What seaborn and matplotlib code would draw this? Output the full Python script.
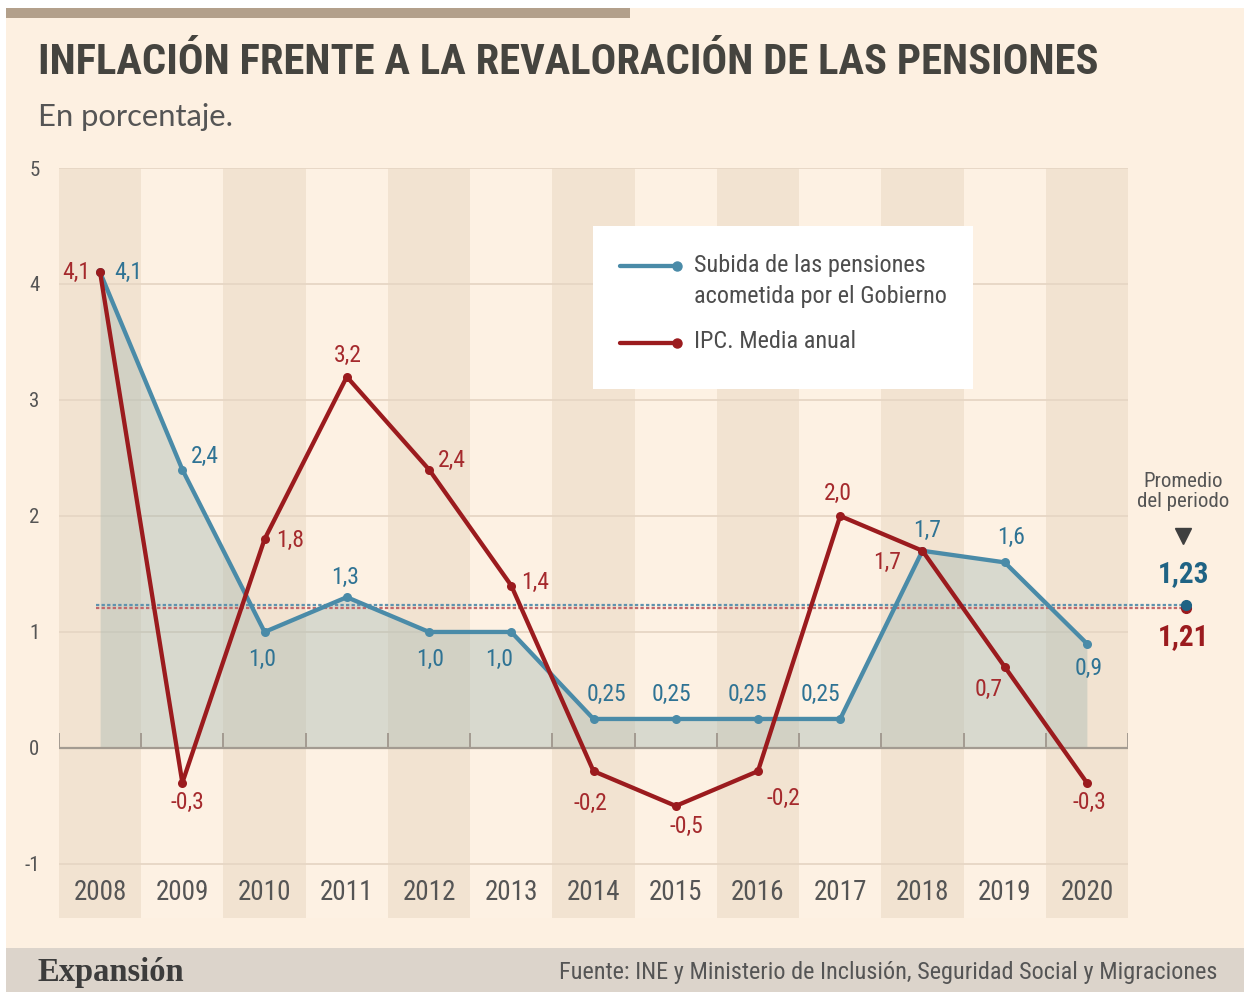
import numpy as np
import pandas as pd
import matplotlib
matplotlib.use("Agg")
import matplotlib.pyplot as plt
import seaborn as sns
from matplotlib import font_manager as fm
from matplotlib.patches import Rectangle
from matplotlib.lines import Line2D

# Datos (en porcentaje)
anios = ["2008", "2009", "2010", "2011", "2012", "2013", "2014",
         "2015", "2016", "2017", "2018", "2019", "2020"]
pensiones = [4.1, 2.4, 1.0, 1.3, 1.0, 1.0, 0.25, 0.25, 0.25, 0.25, 1.7, 1.6, 0.9]
ipc = [4.1, -0.3, 1.8, 3.2, 2.4, 1.4, -0.2, -0.5, -0.2, 2.0, 1.7, 0.7, -0.3]
promedio_pensiones = 1.23
promedio_ipc = 1.21
y_ticks = [5, 4, 3, 2, 1, 0, -1]

# desplazamiento de las etiquetas (pixeles, x derecha / y arriba)
off_pensiones = [(28, 0), (23, 13), (-2, -28), (-2, 20), (1, -28), (-12, -28), (13, 24),
                 (-4, 24), (-11, 24), (-20, 24), (5, 20), (6, 25), (2, -25)]
off_ipc = [(-24, 0), (5, -20), (26, -1), (1, 21), (23, 9), (24, 3), (-3, -32),
           (11, -21), (25, -27), (-2, 23), (-35, -12), (-16, -23), (2, -20)]

CREAM = "#FDF0E1"
DARK_BAND = "#F2E3D1"
GRID = "#E6D6C4"
AXIS = "#A39B91"
BLUE = "#4A8BA8"
BLUE_TXT = "#2F7394"
RED = "#9B1B1E"
RED_TXT = "#A52A2D"
GRAY_TXT = "#555555"

sns.set_theme(style="white")
nombres = {f.name for f in fm.fontManager.ttflist}
NARROW = next((n for n in ["Liberation Sans Narrow", "Roboto Condensed", "DejaVu Sans"]
               if n in nombres), "DejaVu Sans")
plt.rcParams["font.family"] = [NARROW, "DejaVu Sans"]

W, H = 1244, 992
fig = plt.figure(figsize=(W / 100, H / 100), dpi=100, facecolor="white")


def fx(px):
    return px / W


def fy(py):
    return 1 - py / H


def caja(x0, y0, x1, y1, color, z=0):
    fig.add_artist(Rectangle((fx(x0), fy(y1)), fx(x1) - fx(x0), fy(y0) - fy(y1),
                             transform=fig.transFigure, color=color, lw=0, zorder=z))


def ajustar(t, ancho):
    fig.canvas.draw()
    w = t.get_window_extent().width
    t.set_fontsize(t.get_fontsize() * ancho / w)


# fondo, barra superior y pie
caja(6, 8, W, 948, CREAM, z=-2)
caja(6, 8, 630, 18, "#B3A08B", z=-1)
caja(6, 948, W, H, "#DCD4CB", z=-1)

ax = fig.add_axes([fx(59), fy(918), fx(1128) - fx(59), (918 - 168) / H])
ax.set_facecolor("#FDF1E3")
ax.set_xlim(-0.5, 12.5)
ax.set_ylim(-1.466, 5)
for s in ax.spines.values():
    s.set_visible(False)

x = np.arange(len(anios))
for i in range(0, len(anios), 2):
    ax.axvspan(i - 0.5, i + 0.5, color=DARK_BAND, lw=0, zorder=0)
for v in y_ticks:
    if v != 0:
        ax.axhline(v, color=GRID, lw=1.3, zorder=1)

ax.fill_between(x, pensiones, 0, color="#A6BAB2", alpha=0.42, lw=0, zorder=2)
ax.axhline(0, color=AXIS, lw=1.6, zorder=3)
ax.vlines(np.arange(-0.5, len(anios)), 0, 0.13, color=AXIS, lw=1.4, zorder=3)

df = pd.DataFrame({"x": x, "pensiones": pensiones, "ipc": ipc})
sns.lineplot(data=df, x="x", y="pensiones", color=BLUE, lw=3.1, marker="o",
             markersize=6.5, markeredgewidth=0, ax=ax, zorder=5)
sns.lineplot(data=df, x="x", y="ipc", color=RED, lw=3.1, marker="o",
             markersize=6.5, markeredgewidth=0, ax=ax, zorder=6)


def etiqueta(v):
    s = f"{v:.1f}" if abs(v * 10 - round(v * 10)) < 1e-9 else f"{v:.2f}"
    return s.replace(".", ",")


for i in x:
    ax.annotate(etiqueta(pensiones[i]), (i, pensiones[i]), xytext=off_pensiones[i],
                textcoords="offset pixels", ha="center", va="center",
                fontsize=17, color=BLUE_TXT, zorder=7)
    ax.annotate(etiqueta(ipc[i]), (i, ipc[i]), xytext=off_ipc[i],
                textcoords="offset pixels", ha="center", va="center",
                fontsize=17, color=RED_TXT, zorder=7)
    ax.text(i, -1.25, anios[i], ha="center", va="center", fontsize=19.5, color=GRAY_TXT)

# promedios del periodo
ax.plot([-0.05, 13.2], [promedio_ipc] * 2, ls=(0, (1.5, 1)), lw=1.6,
        color="#C2686A", clip_on=False, zorder=4)
ax.plot([-0.05, 13.2], [promedio_pensiones] * 2, ls=(0, (1.5, 1)), lw=1.6,
        color="#5E93AE", clip_on=False, zorder=4)
ax.plot(13.2, promedio_ipc, "o", ms=7, color=RED, clip_on=False, zorder=5)
ax.plot(13.2, promedio_pensiones, "o", ms=7, color="#1F6384", clip_on=False, zorder=6)
ax.text(13.17, 2.21, "Promedio\ndel periodo", ha="center", va="center",
        fontsize=15, color=GRAY_TXT, linespacing=1.05)
ax.plot(13.17, 1.83, marker="v", ms=12, color="#3F3F3F", clip_on=False)
ax.text(13.17, 1.50, etiqueta(promedio_pensiones), ha="center", va="center",
        fontsize=21, fontweight="bold", color="#1F6384")
ax.text(13.17, 0.96, etiqueta(promedio_ipc), ha="center", va="center",
        fontsize=21, fontweight="bold", color=RED)

ax.set_xticks([])
ax.set_yticks(y_ticks)
ax.set_yticklabels([str(v) for v in y_ticks])
ax.tick_params(axis="y", length=0, pad=14, labelsize=15, labelcolor=GRAY_TXT)
ax.set_xlabel("")
ax.set_ylabel("")

# leyenda
caja(593, 226, 973, 389, "white", z=2)
for yy, col in [(266, BLUE), (343, RED)]:
    fig.add_artist(Line2D([fx(620), fx(677)], [fy(yy)] * 2, color=col, lw=3.1,
                          transform=fig.transFigure, zorder=3))
    fig.add_artist(Line2D([fx(677)], [fy(yy)], marker="o", ms=6.5, color=col,
                          transform=fig.transFigure, zorder=3))
fig.text(fx(694), fy(266), "Subida de las pensiones", va="center", fontsize=17.5,
         color="#4D4D4D", zorder=4)
fig.text(fx(694), fy(296), "acometida por el Gobierno", va="center", fontsize=17.5,
         color="#4D4D4D", zorder=4)
fig.text(fx(694), fy(341), "IPC. Media anual", va="center", fontsize=17.5,
         color="#4D4D4D", zorder=4)

# titulo, subtitulo y pie
titulo = fig.text(fx(38), fy(62), "INFLACIÓN FRENTE A LA REVALORACIÓN DE LAS PENSIONES",
                  ha="left", va="center", fontsize=34, fontweight="bold", color="#45443F")
ajustar(titulo, 1062)
sub = fig.text(fx(38), fy(117), "En porcentaje.", ha="left", va="center", fontsize=20,
               family=["Lato", "DejaVu Sans"], color=GRAY_TXT)
ajustar(sub, 196)
fig.text(fx(38), fy(972), "Expansión", ha="left", va="center", fontsize=23.5,
         family=["Liberation Serif", "DejaVu Serif"], fontweight="bold", color="#3C3C3C")
fuente = fig.text(fx(1217), fy(972),
                  "Fuente: INE y Ministerio de Inclusión, Seguridad Social y Migraciones",
                  ha="right", va="center", fontsize=16, color=GRAY_TXT)
ajustar(fuente, 657)

fig.savefig("out.png", dpi=100, facecolor=fig.get_facecolor())
